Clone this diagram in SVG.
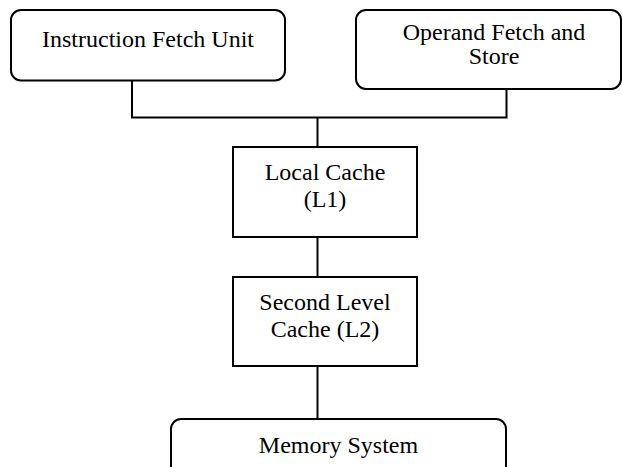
<svg xmlns="http://www.w3.org/2000/svg" width="622" height="467" viewBox="0 0 622 467">
  <style>
    .box { fill: #ffffff; stroke: #000000; stroke-width: 2; }
    .wire { fill: none; stroke: #000000; stroke-width: 2; }
    .label { font-family: "Liberation Serif", "Times New Roman", serif; font-size: 24px; fill: #000000; text-anchor: middle; }
  </style>
  <rect width="622" height="467" fill="#ffffff"/>

  <!-- connectors -->
  <g id="connectors">
    <polyline class="wire" points="132,81 132,117.5 506.5,117.5 506.5,89"/>
    <line class="wire" x1="317.5" y1="117.5" x2="317.5" y2="147"/>
    <line class="wire" x1="317.5" y1="237" x2="317.5" y2="277"/>
    <line class="wire" x1="317.5" y1="366" x2="317.5" y2="419"/>
  </g>

  <g id="instruction-fetch">
    <rect class="box" x="11" y="10" width="274" height="70.5" rx="10"/>
    <text class="label" x="148" y="47">Instruction Fetch Unit</text>
  </g>

  <g id="operand-fetch">
    <rect class="box" x="356" y="10" width="265" height="79" rx="10"/>
    <text class="label" x="494" y="40">Operand Fetch and</text>
    <text class="label" x="494" y="64">Store</text>
  </g>

  <g id="local-cache">
    <rect class="box" x="233" y="147" width="184" height="90"/>
    <text class="label" x="325" y="180">Local Cache</text>
    <text class="label" x="325" y="207">(L1)</text>
  </g>

  <g id="second-level-cache">
    <rect class="box" x="233" y="277" width="184" height="89"/>
    <text class="label" x="325" y="310">Second Level</text>
    <text class="label" x="325" y="337">Cache (L2)</text>
  </g>

  <g id="memory-system">
    <rect class="box" x="171" y="419" width="335" height="60" rx="10"/>
    <text class="label" x="338.5" y="453">Memory System</text>
  </g>
</svg>
